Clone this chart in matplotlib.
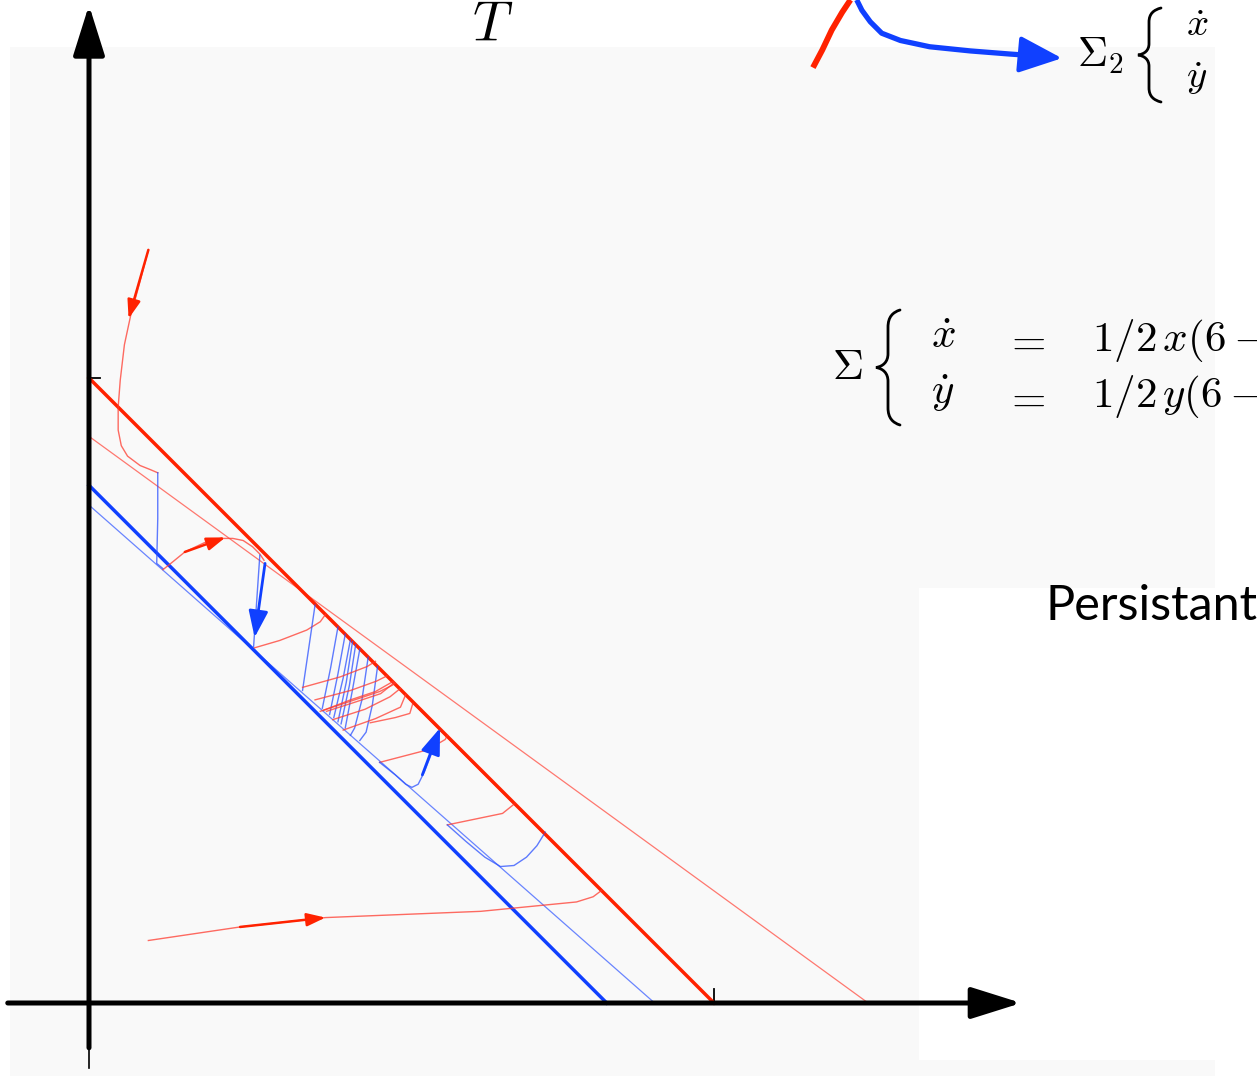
import matplotlib
matplotlib.use("Agg")
import matplotlib.pyplot as plt
from matplotlib.patches import Rectangle, PathPatch
from matplotlib.path import Path
from matplotlib.transforms import Affine2D

plt.rcParams['mathtext.fontset'] = 'cm'

W, H = 1257, 1076
RED = '#ff2200'
BLUE = '#1040ff'
RED_T = '#ff3a2e'
BLUE_T = '#2a50ff'

# Boundary lines of the two regimes and their nullclines
red_boundary_x, red_boundary_y = [0.0, 6.0], [6.0, 0.0]
red_null_x, red_null_y = [0.0, 7.48], [5.44, 0.0]
blue_boundary_x, blue_boundary_y = [0.0, 4.97], [4.97, 0.0]
blue_null_x, blue_null_y = [0.0, 5.43], [4.78, 0.0]
tick_value = 6.0

# Trajectories of system Sigma (red) and Sigma_2 (blue)
red_top_x = [0.57, 0.48, 0.40, 0.34, 0.30, 0.28, 0.28, 0.31, 0.37, 0.49, 0.59, 0.66]
red_top_y = [7.23, 6.89, 6.60, 6.32, 5.98, 5.72, 5.50, 5.35, 5.25, 5.16, 5.12, 5.09]
blue_drop1_x = [0.66, 0.66, 0.65, 0.71]
blue_drop1_y = [5.09, 4.65, 4.22, 4.17]
red_hop1_x = [0.71, 0.81, 0.92, 1.11, 1.26, 1.38, 1.48, 1.57, 1.64, 1.68]
red_hop1_y = [4.16, 4.24, 4.33, 4.42, 4.46, 4.46, 4.44, 4.38, 4.31, 4.25]
blue_drop2_x = [1.64, 1.61, 1.58]
blue_drop2_y = [4.30, 3.86, 3.42]
red_hop2_x = [1.59, 1.83, 2.09, 2.22, 2.27]
red_hop2_y = [3.41, 3.48, 3.58, 3.66, 3.73]
blue_drop3_x = [2.17, 2.11, 2.05]
blue_drop3_y = [3.82, 3.41, 3.00]

cluster_blue = [
    ([2.39, 2.32, 2.24], [3.61, 3.22, 2.83]),
    ([2.46, 2.39, 2.31], [3.54, 3.16, 2.77]),
    ([2.51, 2.44, 2.35], [3.49, 3.12, 2.74]),
    ([2.53, 2.47, 2.39], [3.47, 3.08, 2.70]),
    ([2.56, 2.50, 2.42], [3.44, 3.05, 2.68]),
    ([2.60, 2.53, 2.46], [3.40, 3.01, 2.64]),
    ([2.68, 2.62, 2.55, 2.51], [3.32, 2.91, 2.64, 2.57]),
    ([2.77, 2.72, 2.66, 2.60], [3.23, 2.86, 2.60, 2.52]),
]
cluster_red = [
    ([2.05, 2.41, 2.67, 2.75], [3.03, 3.13, 3.23, 3.28]),
    ([2.17, 2.51, 2.76, 2.86], [2.91, 3.00, 3.09, 3.14]),
    ([2.25, 2.51, 2.75, 2.89, 2.92], [2.81, 2.91, 2.99, 3.07, 3.09]),
    ([2.22, 2.55, 2.79, 2.91, 2.94], [2.80, 2.91, 2.99, 3.05, 3.07]),
    ([2.28, 2.56, 2.80, 2.90, 2.93], [2.80, 2.89, 2.97, 3.05, 3.08]),
    ([2.34, 2.65, 2.89, 2.99], [2.72, 2.82, 2.94, 3.02]),
    ([2.44, 2.75, 2.99, 3.04], [2.62, 2.73, 2.84, 2.96]),
    ([2.70, 2.94, 3.08, 3.11], [2.69, 2.74, 2.78, 2.88]),
    ([2.79, 3.25, 3.42, 3.44], [2.31, 2.43, 2.53, 2.57]),
    ([3.44, 3.97, 4.07, 4.09], [1.71, 1.82, 1.90, 1.92]),
]
blue_u1_x = [2.79, 2.94, 3.04, 3.10, 3.16, 3.22, 3.29, 3.37]
blue_u1_y = [2.31, 2.19, 2.10, 2.07, 2.10, 2.22, 2.40, 2.62]
blue_u2_x = [3.44, 3.62, 3.80, 3.95, 4.08, 4.20, 4.30, 4.38]
blue_u2_y = [1.71, 1.55, 1.40, 1.31, 1.32, 1.40, 1.51, 1.64]
red_slide_x = [3.11, 4.92]
red_slide_y = [2.88, 1.08]
red_bottom_x = [0.57, 1.45, 2.27, 3.76, 4.68, 4.84, 4.92]
red_bottom_y = [0.60, 0.73, 0.82, 0.88, 0.97, 1.02, 1.08]

# Direction arrows: (tail, tip)
red_arrows = [((0.57, 7.23), (0.38, 6.57)),
              ((0.92, 4.33), (1.31, 4.47)),
              ((1.45, 0.73), (2.27, 0.82))]
blue_arrows = [((1.69, 4.22), (1.59, 3.51)),
               ((3.20, 2.19), (3.37, 2.64))]

# Legend-like curves at the top right
legend_red_x = [6.95, 7.04, 7.13, 7.23, 7.31]
legend_red_y = [8.98, 9.15, 9.34, 9.51, 9.63]
legend_blue_x = [7.37, 7.42, 7.50, 7.61, 7.79, 8.07, 8.46, 8.84, 9.13]
legend_blue_y = [9.63, 9.53, 9.42, 9.31, 9.24, 9.18, 9.14, 9.11, 9.09]
legend_blue_tip = (9.34, 9.07)

fig = plt.figure(figsize=(W / 100, H / 100), dpi=100)
px = Affine2D().scale(1 / W, -1 / H).translate(0, 1) + fig.transFigure

# Slide backgrounds
fig.patches.append(Rectangle((10, 47), 1205, 1029, transform=px, facecolor='#f9f9f9',
                             edgecolor='none', zorder=-10))
fig.patches.append(Rectangle((919, 588), 296, 472, transform=px, facecolor='white',
                             edgecolor='none', zorder=-9))

ax = fig.add_axes([0, 0, 1, 1])
ax.patch.set_visible(False)
ax.set_xlim(-89 * 0.0096, (W - 89) * 0.0096)
ax.set_ylim((1003 - H) * 0.0096, 1003 * 0.0096)
ax.axis('off')

# Coordinate axes
axis_arrow = dict(arrowstyle='-|>,head_length=0.7,head_width=0.22', color='black',
                  lw=3.6, mutation_scale=44, shrinkA=0, shrinkB=0)
ax.annotate('', xy=(0, 9.58), xytext=(0, -0.43), arrowprops=axis_arrow)
ax.plot([0, 0], [-0.43, -0.62], color='black', lw=1.2)
ax.annotate('', xy=(8.95, 0), xytext=(-0.78, 0), arrowprops=axis_arrow)
ax.plot([0, 0.11], [tick_value, tick_value], color='black', lw=1.3)
ax.plot([tick_value, tick_value], [0, 0.13], color='black', lw=1.3)

# Boundaries and nullclines
ax.plot(red_null_x, red_null_y, color='#ff6a60', lw=0.9, alpha=0.9)
ax.plot(blue_null_x, blue_null_y, color='#5a78ff', lw=0.9, alpha=0.9)
ax.plot(red_boundary_x, red_boundary_y, color=RED, lw=2.5)
ax.plot(blue_boundary_x, blue_boundary_y, color=BLUE, lw=2.5)

tr_r = dict(color=RED_T, lw=1.0, alpha=0.75)
tr_b = dict(color=BLUE_T, lw=1.0, alpha=0.75)
ax.plot(red_top_x, red_top_y, **tr_r)
ax.plot(blue_drop1_x, blue_drop1_y, **tr_b)
ax.plot(red_hop1_x, red_hop1_y, **tr_r)
ax.plot(blue_drop2_x, blue_drop2_y, **tr_b)
ax.plot(red_hop2_x, red_hop2_y, **tr_r)
ax.plot(blue_drop3_x, blue_drop3_y, **tr_b)
for xs, ys in cluster_blue:
    ax.plot(xs, ys, **tr_b)
for xs, ys in cluster_red:
    ax.plot(xs, ys, **tr_r)
ax.plot(blue_u1_x, blue_u1_y, **tr_b)
ax.plot(blue_u2_x, blue_u2_y, **tr_b)
ax.plot(red_slide_x, red_slide_y, color=RED, lw=1.4, alpha=0.6)
ax.plot(red_bottom_x, red_bottom_y, **tr_r)

for tail, tip in red_arrows:
    ax.annotate('', xy=tip, xytext=tail,
                arrowprops=dict(arrowstyle='-|>,head_length=0.8,head_width=0.28', color=RED,
                                lw=1.8, mutation_scale=14, shrinkA=0, shrinkB=0))
for tail, tip in blue_arrows:
    ax.annotate('', xy=tip, xytext=tail,
                arrowprops=dict(arrowstyle='-|>,head_length=0.9,head_width=0.33', color=BLUE,
                                lw=2.0, mutation_scale=18, shrinkA=0, shrinkB=0))

# Legend curves
ax.plot(legend_red_x, legend_red_y, color=RED, lw=4.2, solid_capstyle='butt')
ax.plot(legend_blue_x, legend_blue_y, color=BLUE, lw=3.8, solid_capstyle='butt',
        solid_joinstyle='round')
ax.annotate('', xy=legend_blue_tip, xytext=(legend_blue_x[-1] - 0.05, legend_blue_y[-1] + 0.003),
            arrowprops=dict(arrowstyle='-|>,head_length=0.7,head_width=0.3', color=BLUE,
                            lw=3.0, mutation_scale=38, shrinkA=0, shrinkB=0))


def brace(x_tip, x_stem, x_end, y_top, y_bot):
    ym = (y_top + y_bot) / 2
    h = y_bot - y_top
    verts = [(x_end, y_top),
             (x_stem + 0.4 * (x_end - x_stem), y_top + 0.02 * h), (x_stem, y_top + 0.06 * h),
             (x_stem, y_top + 0.15 * h),
             (x_stem, ym - 0.12 * h),
             (x_stem, ym - 0.05 * h), (x_stem - 0.4 * (x_stem - x_tip), ym - 0.01 * h), (x_tip, ym),
             (x_stem - 0.4 * (x_stem - x_tip), ym + 0.01 * h), (x_stem, ym + 0.05 * h),
             (x_stem, ym + 0.12 * h),
             (x_stem, y_bot - 0.15 * h),
             (x_stem, y_bot - 0.06 * h), (x_stem + 0.4 * (x_end - x_stem), y_bot - 0.02 * h),
             (x_end, y_bot)]
    codes = [Path.MOVETO, Path.CURVE4, Path.CURVE4, Path.CURVE4, Path.LINETO,
             Path.CURVE4, Path.CURVE4, Path.CURVE4, Path.CURVE4, Path.CURVE4, Path.CURVE4,
             Path.LINETO, Path.CURVE4, Path.CURVE4, Path.CURVE4]
    fig.patches.append(PathPatch(Path(verts, codes), transform=px, facecolor='none',
                                 edgecolor='black', lw=2.0, capstyle='round'))


# Title-ish label
fig.text(493, 41, r'$T$', transform=px, fontsize=40, ha='center', va='baseline')

# System Sigma_2
fig.text(1077, 55, r'$\Sigma_2$', transform=px, fontsize=30, ha='left', va='center')
brace(1138, 1149, 1161, 8, 102)
fig.text(1197, 25, r'$\dot{x}$', transform=px, fontsize=28, ha='center', va='center')
fig.text(1197, 78, r'$\dot{y}$', transform=px, fontsize=28, ha='center', va='center')
fig.text(1248, 28, r'$=$', transform=px, fontsize=28, ha='left', va='center')
fig.text(1248, 81, r'$=$', transform=px, fontsize=28, ha='left', va='center')

# System Sigma
fig.text(847, 367, r'$\Sigma$', transform=px, fontsize=31, ha='center', va='center')
brace(876, 888, 900, 310, 425)
fig.text(943, 336, r'$\dot{x}$', transform=px, fontsize=31, ha='center', va='center')
fig.text(943, 393, r'$\dot{y}$', transform=px, fontsize=31, ha='center', va='center')
fig.text(1025, 341, r'$=$', transform=px, fontsize=32, ha='center', va='center')
fig.text(1025, 398, r'$=$', transform=px, fontsize=32, ha='center', va='center')
fig.text(1092, 340, r'$1/2\,x(6-x-y)$', transform=px, fontsize=31, ha='left', va='center')
fig.text(1092, 397, r'$1/2\,y(6-x-y)$', transform=px, fontsize=31, ha='left', va='center')

fig.text(1045, 620, 'Persistant', transform=px, fontsize=35, family='Lato',
         ha='left', va='baseline')

fig.savefig('out.png', dpi=100)
